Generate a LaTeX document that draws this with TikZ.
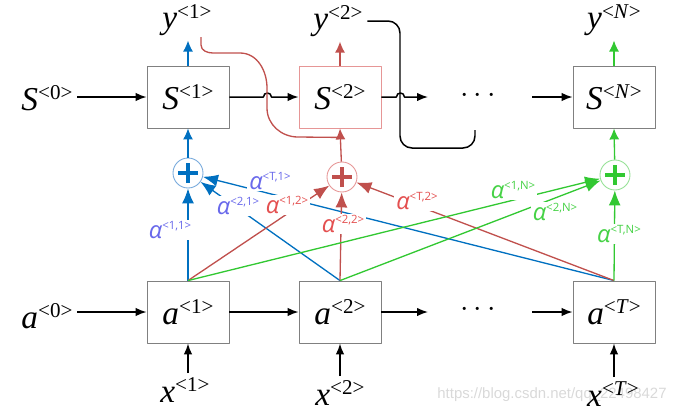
\documentclass[tikz,border=0pt]{standalone}
\usepackage{fontspec}
\setmainfont{Liberation Serif}
\newfontfamily\lblfont{Open Sans}
\newfontfamily\wmfont{Liberation Sans}
\usetikzlibrary{arrows.meta, calc}
\definecolor{BlueLn}{RGB}{0,112,192}
\definecolor{BlueTx}{RGB}{105,105,235}
\definecolor{BlueCi}{RGB}{120,170,220}
\definecolor{RedLn}{RGB}{192,80,77}
\definecolor{RedTx}{RGB}{228,80,80}
\definecolor{RedCi}{RGB}{230,150,150}
\definecolor{GreenLn}{RGB}{50,200,50}
\definecolor{GreenTx}{RGB}{70,210,70}
\definecolor{GreenCi}{RGB}{150,225,150}
\xdef\LWB{0.85pt}
\xdef\LWC{0.75pt}
\newcommand\rnnlab[2]{{\fontsize{19}{19}\selectfont\itshape #1}\raisebox{6pt}{\fontsize{12}{12}\selectfont <#2>}}
\newcommand\attlab[1]{{\lblfont\itshape\fontsize{13.5}{13.5}\selectfont α}\raisebox{5pt}{\lblfont\fontsize{6.5}{6.5}\selectfont <#1>}}
\begin{document}
\begin{tikzpicture}[x=0.02cm,y=-0.02cm,line join=round,
box/.style={draw=gray,line width=0.5pt,minimum width=1.64cm,minimum height=1.24cm,inner sep=0},
txt/.style={inner sep=2.5pt},
sumnode/.style={circle,draw=#1Ci,line width=0.5pt,minimum size=0.6cm,inner sep=0,path picture={\draw[#1Ln,line width=1.9pt] ([xshift=-0.2cm]path picture bounding box.center)--([xshift=0.2cm]path picture bounding box.center) ([yshift=-0.2cm]path picture bounding box.center)--([yshift=0.2cm]path picture bounding box.center);}},
arr/.style={-{Latex[length=0.22cm,width=0.17cm]},line width=\LWB},
att/.style={-{Latex[length=0.3cm,width=0.24cm]},line width=\LWC,draw=#1Ln},
outp/.style={-{Latex[length=0.22cm,width=0.2cm]},line width=\LWC,draw=#1Ln},
lbl/.style={fill=white,inner sep=1pt,text=#1Tx}]
\useasboundingbox (0,0) rectangle (684,413);
\node[text=black!15,font=\wmfont\fontsize{8.5}{8.5}\selectfont] (wm) at (552,395) {https://blog.csdn.net/qq\_22498427};
\node[box] (s1) at (188,97) {\rnnlab{S}{1}};
\node[box,draw=RedCi] (s2) at (340,97) {\rnnlab{S}{2}};
\node[box] (sN) at (614,97) {\rnnlab{S}{\textit{N}}};
\node[box] (a1) at (188,312) {\rnnlab{a}{1}};
\node[box] (a2) at (340,312) {\rnnlab{a}{2}};
\node[box] (aT) at (614,312) {\rnnlab{a}{\textit{T}}};
\node[txt] (s0) at (47,98) {\rnnlab{S}{0}};
\node[txt] (a0) at (47,316) {\rnnlab{a}{0}};
\node[txt] (y1) at (187,20) {\rnnlab{y}{1}};
\node[txt] (y2) at (338,21) {\rnnlab{y}{2}};
\node[txt] (yN) at (614,20) {\rnnlab{y}{\textit{N}}};
\node[txt] (x1) at (185,390) {\rnnlab{x}{1}};
\node[txt] (x2) at (340,393) {\rnnlab{x}{2}};
\node[txt] (xT) at (613,394) {\rnnlab{x}{\textit{T}}};
\node (dS) at (478,96) {\fontsize{19}{19}\selectfont$\cdots$};
\node (dA) at (478,310) {\fontsize{19}{19}\selectfont$\cdots$};
\node[sumnode=Blue] (p1) at (188,173) {};
\node[sumnode=Red] (p2) at (342,177) {};
\node[sumnode=Green] (p3) at (615,175) {};
\coordinate (sE) at (428,97);
\coordinate (sF) at (532,97);
\coordinate (aE) at (428,312);
\coordinate (aF) at (532,312);
\coordinate (rc) at (201,37);
\coordinate (bk) at (475,130);
\draw[arr] (s0.east |- s1.west)--(s1.west);
\draw[arr] (s1.east)--++(34,0) to[out=90,in=90,looseness=1.7] ++(8,0)--(s2.west);
\draw[arr] (s2.east)--++(15,0) to[out=90,in=90,looseness=1.7] ++(8,0)--(sE);
\draw[arr] (sF)--(sN.west);
\draw[arr] (a0.east |- a1.west)--(a1.west);
\draw[arr] (a1)--(a2);
\draw[arr] (a2)--(aE);
\draw[arr] (aF)--(aT);
\draw[arr] (a1.south |- x1.north)--(a1.south);
\draw[arr] (a2.south |- x2.north)--(a2.south);
\draw[arr] (aT.south |- xT.north)--(aT.south);
\draw[line width=\LWB,rounded corners=0.24cm] (y2.east)-|(400,148)-|(bk);
\draw[RedLn,line width=\LWC] (rc)--(201,45) to[out=-90,in=180] (213,53)--(240,53) to[out=0,in=90] (267,88)--(267,108) to[out=-90,in=180] (298,137)--($(s2.south)+(0,9)$);
\draw[outp=Blue] (s1.north)--(s1.north |- y1.south);
\draw[outp=Red] (s2.north)--(s2.north |- y2.south);
\draw[outp=Green] (sN.north)--(sN.north |- yN.south);
\draw[outp=Blue] (p1)--(s1.south);
\draw[outp=Red] (p2)--(s2.south);
\draw[outp=Green] (p3)--(sN.south);
\draw[att=Blue] (a1.north)--(p1);
\draw[att=Blue] (a2.north)--(p1);
\draw[att=Blue] (aT.north)--(p1);
\draw[att=Red] (a1.north)--(p2);
\draw[att=Red] (a2.north)--(p2);
\draw[att=Red] (aT.north)--(p2);
\draw[att=Green] (a1.north)--(p3);
\draw[att=Green] (a2.north)--(p3);
\draw[att=Green] (aT.north)--(p3);
\node[lbl=Blue] (l11) at (170,230) {\attlab{1,1}};
\node[lbl=Blue] (l21) at (238,206) {\attlab{2,1}};
\node[lbl=Blue] (lT1) at (270,181) {\attlab{T,1}};
\node[lbl=Red] (l12) at (287,205) {\attlab{1,2}};
\node[lbl=Red] (l22) at (343,224) {\attlab{2,2}};
\node[lbl=Red] (lT2) at (417,201) {\attlab{T,2}};
\node[lbl=Green] (l1N) at (513,190) {\attlab{1,N}};
\node[lbl=Green] (l2N) at (555,212) {\attlab{2,N}};
\node[lbl=Green] (lTN) at (619,234) {\attlab{T,N}};
\end{tikzpicture}
\end{document}
